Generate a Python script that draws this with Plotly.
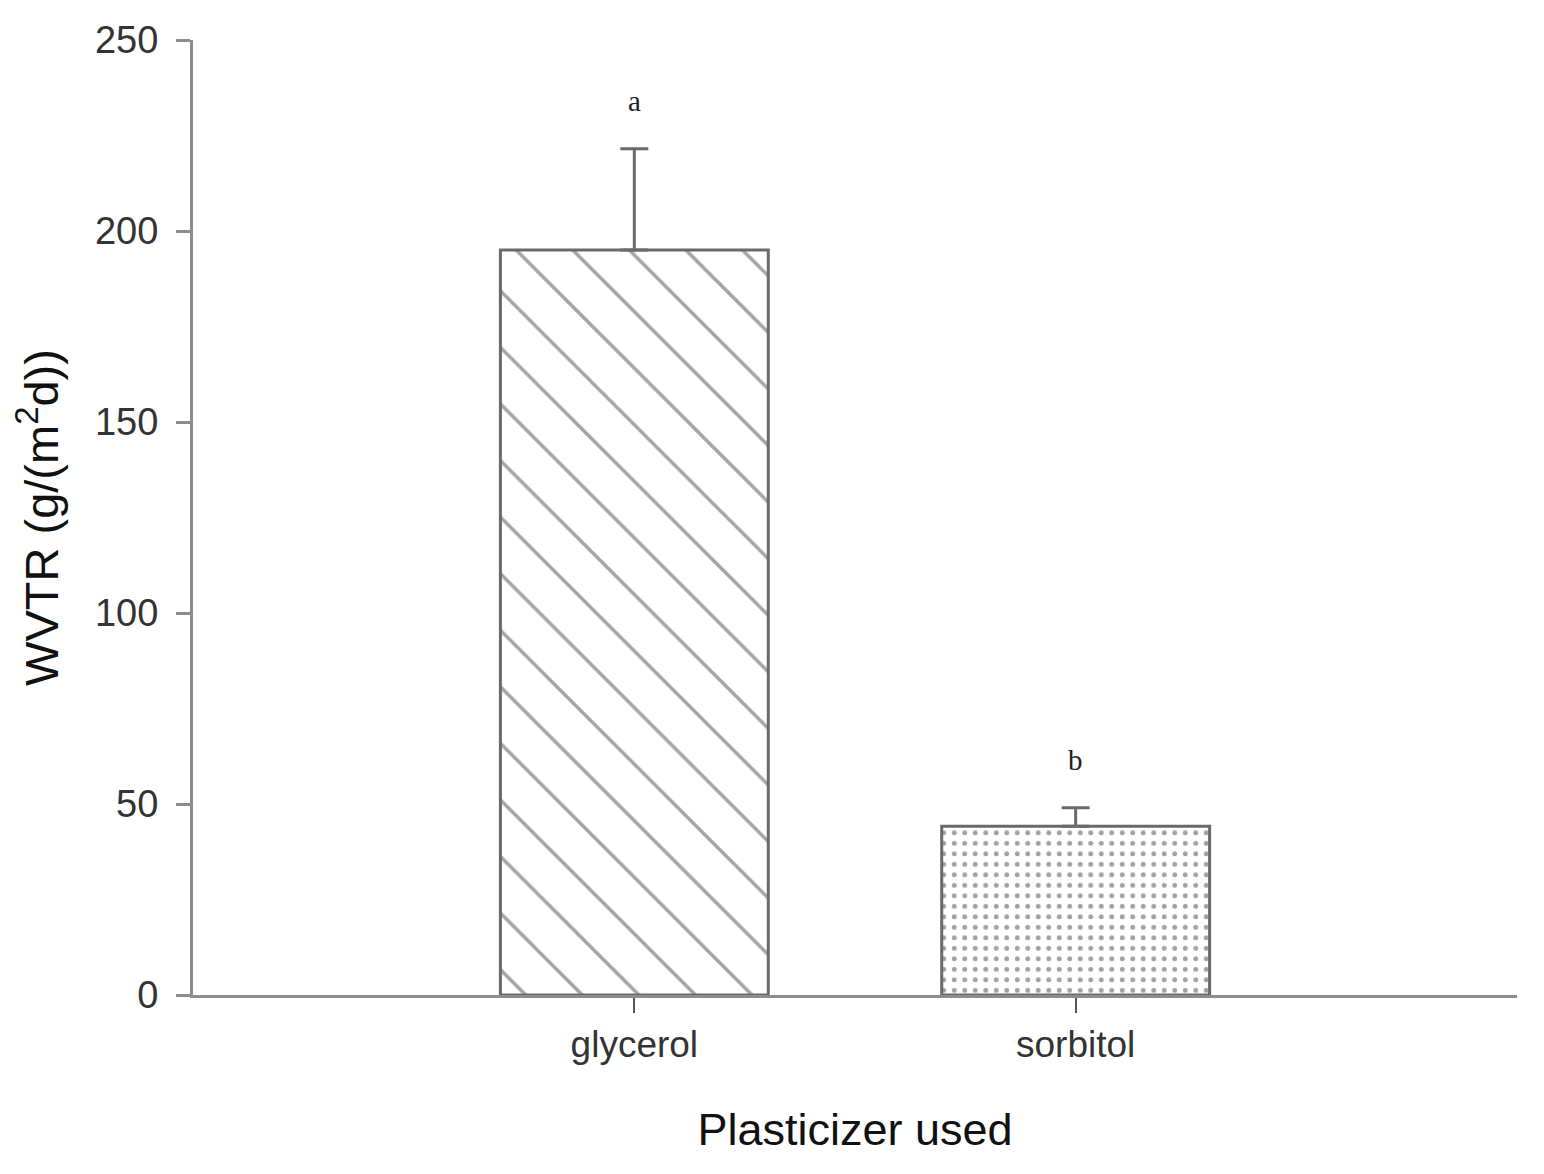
import plotly.graph_objects as go

plasticizers = ["glycerol", "sorbitol"]
wvtr_mean = [195.0, 44.2]
wvtr_sd = [26.5, 4.8]
group_letters = ["a", "b"]
y_ticks = [0, 50, 100, 150, 200, 250]

AXIS_GREY = "#8c8c8c"
EDGE_GREY = "#6a6a6a"
SANS = "Liberation Sans, Arial, sans-serif"

fig = go.Figure()
fig.add_trace(
    go.Bar(
        x=plasticizers,
        y=wvtr_mean,
        width=0.607,
        marker=dict(
            color="white",
            line=dict(color=EDGE_GREY, width=3),
            pattern=dict(
                shape=["\\", "."],
                size=[40, 10.5],
                solidity=[0.085, 0.17],
                fgcolor=["#4a4a4a", "#444444"],
                bgcolor="white",
                fillmode="overlay",
            ),
        ),
        error_y=dict(
            type="data",
            symmetric=False,
            array=wvtr_sd,
            arrayminus=[0] * len(wvtr_sd),
            color=EDGE_GREY,
            thickness=3,
            width=14,
        ),
        showlegend=False,
    )
)

# significance letters sit a fixed distance above each error bar
for name, mean, sd, letter in zip(plasticizers, wvtr_mean, wvtr_sd, group_letters):
    fig.add_annotation(
        x=name,
        y=mean + sd,
        text=letter,
        showarrow=False,
        yshift=48,
        font=dict(family="Liberation Serif, Times New Roman, serif", size=29, color="#222222"),
    )

fig.update_xaxes(
    range=[-1, 2],
    showline=True,
    linecolor=AXIS_GREY,
    linewidth=3,
    ticks="outside",
    ticklen=15,
    tickwidth=2,
    tickcolor="#555555",
    showgrid=False,
    zeroline=False,
    tickfont=dict(family=SANS, size=37, color="#333333"),
    title=dict(
        text="Plasticizer used",
        font=dict(family=SANS, size=45, color="#111111"),
        standoff=50,
    ),
)
fig.update_yaxes(
    range=[0, 250],
    tickvals=y_ticks,
    showline=True,
    linecolor=AXIS_GREY,
    linewidth=3,
    ticks="outside",
    ticklen=14,
    tickwidth=3,
    tickcolor=AXIS_GREY,
    ticklabelstandoff=10,
    showgrid=False,
    zeroline=False,
    tickfont=dict(family=SANS, size=38, color="#333333"),
    title=dict(
        text="WVTR (g/(m<sup>2</sup>d))",
        font=dict(family=SANS, size=47, color="#111111"),
        standoff=27,
    ),
)

# page body adds an 8px margin, so the figure is a little smaller than the window
fig.update_layout(
    width=1528,
    height=1158,
    margin=dict(l=185, r=19, t=32, b=171),
    plot_bgcolor="white",
    paper_bgcolor="white",
)

fig.write_html("out.html")
